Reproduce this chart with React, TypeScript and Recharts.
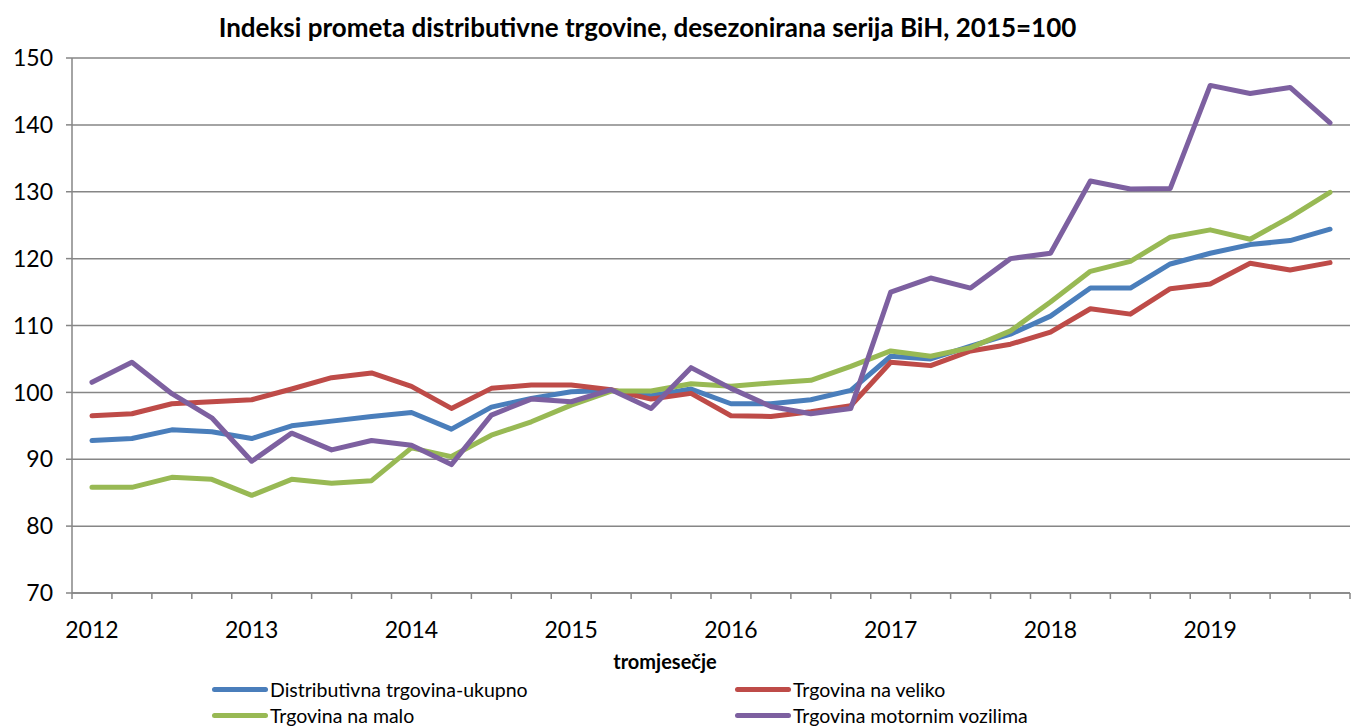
import React from 'react';
import { LineChart, Line, XAxis, YAxis, CartesianGrid, Legend } from 'recharts';

const years = ['2012', '2013', '2014', '2015', '2016', '2017', '2018', '2019'];
const quarterNames = ['I', 'II', 'III', 'IV'];
const categories = years.flatMap((y) => quarterNames.map((q) => `${q} ${y}`));
const yTicks = [70, 80, 90, 100, 110, 120, 130, 140, 150];

const seriesNames = [
  'Distributivna trgovina-ukupno',
  'Trgovina na veliko',
  'Trgovina na malo',
  'Trgovina motornim vozilima',
];
const seriesColors = ['#4A7EBB', '#BE4B48', '#98B954', '#7D60A0'];
const seriesKeys = ['total', 'wholesale', 'retail', 'motor'];

const total = [92.8, 93.1, 94.4, 94.1, 93.1, 95.0, 95.7, 96.4, 97.0, 94.5, 97.8, 99.1, 100.1, 100.3, 99.5, 100.5, 98.3, 98.3, 98.9, 100.3, 105.4, 105.0, 106.9, 108.7, 111.4, 115.6, 115.6, 119.2, 120.8, 122.1, 122.7, 124.4];
const wholesale = [96.5, 96.8, 98.3, 98.6, 98.9, 100.5, 102.2, 102.9, 100.9, 97.6, 100.6, 101.1, 101.1, 100.4, 99.0, 99.85, 96.5, 96.4, 97.1, 98.0, 104.5, 104.0, 106.2, 107.2, 109.0, 112.5, 111.7, 115.5, 116.2, 119.3, 118.3, 119.4];
const retail = [85.8, 85.8, 87.3, 87.0, 84.6, 87.0, 86.4, 86.8, 91.7, 90.4, 93.6, 95.6, 98.1, 100.2, 100.2, 101.3, 100.9, 101.4, 101.8, 103.9, 106.2, 105.4, 106.7, 109.2, 113.5, 118.1, 119.6, 123.2, 124.3, 122.9, 126.2, 129.9];
const motor = [101.5, 104.5, 99.8, 96.2, 89.7, 93.9, 91.4, 92.8, 92.1, 89.2, 96.6, 99.0, 98.6, 100.4, 97.6, 103.7, 100.6, 97.9, 96.8, 97.6, 115.0, 117.1, 115.6, 120.0, 120.8, 131.6, 130.4, 130.5, 145.9, 144.7, 145.6, 140.3];

const data = categories.map((c, i) => ({
  i,
  quarter: c,
  total: total[i],
  wholesale: wholesale[i],
  retail: retail[i],
  motor: motor[i],
}));

const boundaryTicks = categories.map((_, i) => i - 0.5).concat([categories.length - 0.5]);
const yearTicks = years.map((_, k) => k * 4);
const xDomain = [-0.5, categories.length - 0.5];

const FONT = 'Lato, "Open Sans", sans-serif';
const GRID = '#868686';

const renderLegend = () => (
  <div style={{ position: 'relative', width: 1344, height: 52, fontFamily: FONT, fontSize: 19.5, color: '#000' }}>
    {seriesKeys.map((k, idx) => {
      const col = idx === 0 || idx === 2 ? 0 : 1;
      const row = idx < 2 ? 0 : 1;
      return (
        <div
          key={k}
          style={{
            position: 'absolute',
            left: col === 0 ? 202 : 725,
            top: row * 26,
            height: 26,
            display: 'flex',
            alignItems: 'center',
            whiteSpace: 'nowrap',
          }}
        >
          <span style={{ display: 'inline-block', width: 56, height: 5, borderRadius: 3, background: seriesColors[idx], marginRight: 2 }} />
          <span>{seriesNames[idx]}</span>
        </div>
      );
    })}
  </div>
);

export default function App() {
  return (
    <div style={{ position: 'absolute', left: 0, top: 0, width: 1354, height: 728, background: '#fff', fontFamily: FONT, overflow: 'hidden' }}>
      <div
        style={{
          position: 'absolute',
          left: 0,
          top: 12,
          width: 1295,
          textAlign: 'center',
          fontWeight: 700,
          fontSize: 26,
          lineHeight: '30px',
          color: '#000',
          zIndex: 2,
        }}
      >
        Indeksi prometa distributivne trgovine, desezonirana serija BiH, 2015=100
      </div>
      <div
        style={{
          position: 'absolute',
          left: 0,
          top: 650,
          width: 1330,
          textAlign: 'center',
          fontWeight: 700,
          fontSize: 20,
          lineHeight: '22px',
          color: '#000',
          zIndex: 2,
        }}
      >
        tromjesečje
      </div>
      <LineChart width={1354} height={728} data={data} margin={{ top: 58, right: 4, left: 10, bottom: 0 }}>
        <CartesianGrid vertical={false} stroke={GRID} strokeWidth={1.5} xAxisId="q" />
        <XAxis
          xAxisId="q"
          dataKey="i"
          type="number"
          domain={xDomain}
          ticks={boundaryTicks}
          tickFormatter={() => ''}
          tickSize={6}
          height={8}
          stroke={GRID}
          strokeWidth={1.5}
          interval={0}
          allowDecimals
        />
        <XAxis
          xAxisId="year"
          dataKey="i"
          type="number"
          domain={xDomain}
          ticks={yearTicks}
          tickFormatter={(v: number) => years[Math.round(v / 4)]}
          axisLine={false}
          tickLine={false}
          tickSize={0}
          tickMargin={21}
          height={75}
          interval={0}
          tick={{ fill: '#000', fontSize: 23, fontFamily: FONT }}
        />
        <YAxis
          domain={[70, 150]}
          ticks={yTicks}
          interval={0}
          tickSize={6}
          tickMargin={13}
          width={62}
          stroke={GRID}
          strokeWidth={1.5}
          tick={{ fill: '#000', fontSize: 23, fontFamily: FONT }}
        />
        {seriesKeys.map((k, idx) => (
          <Line
            key={k}
            xAxisId="q"
            type="linear"
            dataKey={k}
            name={seriesNames[idx]}
            stroke={seriesColors[idx]}
            strokeWidth={5}
            strokeLinejoin="round"
            strokeLinecap="round"
            dot={false}
            activeDot={false}
            isAnimationActive={false}
          />
        ))}
        <Legend verticalAlign="bottom" height={52} content={renderLegend} />
      </LineChart>
    </div>
  );
}
